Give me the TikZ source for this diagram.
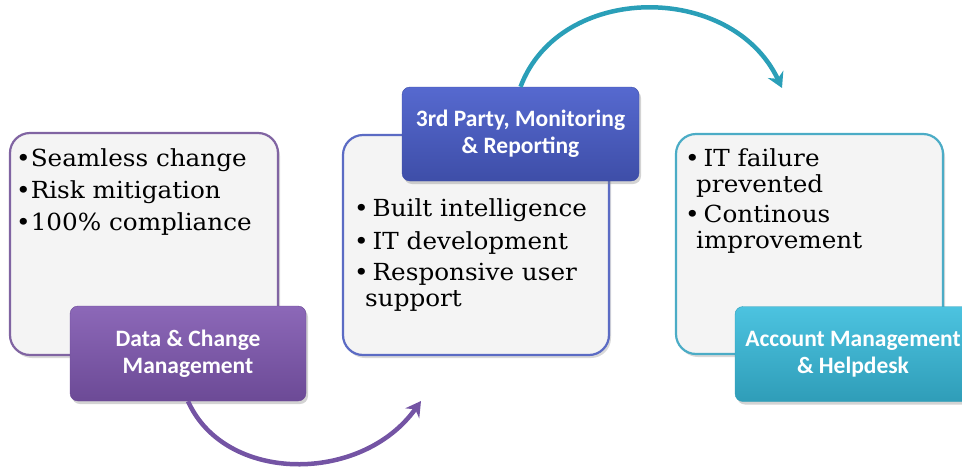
\documentclass[tikz,border=0pt]{standalone}
\usepackage{fontspec}
\setmainfont[FakeStretch=1.05]{DejaVu Serif}
\newfontfamily\labfont{Carlito}
\usetikzlibrary{arrows.meta,shadows}
\definecolor{panelfill}{HTML}{F4F4F4}
\definecolor{purpline}{HTML}{8064A2}
\definecolor{blueline}{HTML}{5B6BC4}
\definecolor{tealline}{HTML}{4BACC6}
\definecolor{purptop}{HTML}{8C68B8}
\definecolor{purpbot}{HTML}{6C4A96}
\definecolor{bluetop}{HTML}{5669CF}
\definecolor{bluebot}{HTML}{3E4EA8}
\definecolor{tealtop}{HTML}{4CC3E0}
\definecolor{tealbot}{HTML}{2F9DB8}
\definecolor{purparrow}{HTML}{7454A4}
\definecolor{tealarrow}{HTML}{2A9FB8}
\begin{document}
\begin{tikzpicture}[x=1pt,y=-1pt,
  panel/.style={draw, line width=2.2pt, fill=panelfill, rounded corners=20pt,
    inner sep=0pt,
    drop shadow={opacity=0.3, shadow xshift=2pt, shadow yshift=-3pt}},
  label/.style={rounded corners=8pt, inner sep=0pt, align=center,
    minimum width=236pt, minimum height=95pt, text=white,
    font=\labfont\bfseries\fontsize{23.5}{27}\selectfont,
    drop shadow={opacity=0.35, shadow xshift=2pt, shadow yshift=-3pt}},
  bodytext/.style={anchor=north west, inner sep=0pt, align=left},
  flowarrow/.style={line width=4.5pt, -{Stealth[length=15pt,width=17pt]}}
]
\clip (0,0) rectangle (962,472);
\useasboundingbox (0,0) rectangle (962,472);

% Panel 1
\node[panel, draw=purpline, minimum width=268pt, minimum height=222pt] (b1) at (144,244) {};
\node[bodytext, font=\fontsize{23.5}{32}\selectfont] (t1) at (16,148)
  {•Seamless change\\•Risk mitigation\\•100\% compliance};
\node[label, draw=purpbot, top color=purptop, bottom color=purpbot] (l1) at (188,353.5)
  {Data \& Change\\Management};

% Panel 2
\node[panel, draw=blueline, minimum width=266pt, minimum height=220pt] (b2) at (476,245) {};
\node[label, draw=bluebot, top color=bluetop, bottom color=bluebot, minimum width=237pt, minimum height=94pt] (l2) at (520.5,134)
  {3rd Party, Monitoring\\\& Reporting};
\node[bodytext, font=\fontsize{23.5}{31}\selectfont] (t2) at (354,198)
  {•\,Built intelligence\\[2pt]•\,IT development\\•\,Responsive user\\[-5pt]\hspace*{11pt}support};

% Panel 3
\node[panel, draw=tealline, minimum width=267pt, minimum height=220pt] (b3) at (809.5,244) {};
\node[bodytext, font=\fontsize{23.5}{26}\selectfont] (t3) at (685,148)
  {•\,IT failure\\\hspace*{11pt}prevented\\[4pt]•\,Continous\\\hspace*{11pt}improvement};
\node[label, draw=tealbot, top color=tealtop, bottom color=tealbot] (l3) at (853,354)
  {Account Management\\\& Helpdesk};

% Arrows
\coordinate (pend) at (421,401);
\coordinate (tend) at (782,88);
\draw[flowarrow, draw=purparrow] (l1.south) .. controls (225,484) and (362,484) .. (pend);
\draw[flowarrow, draw=tealarrow] (l2.north) .. controls (560,-18) and (732,-18) .. (tend);
\end{tikzpicture}
\end{document}
